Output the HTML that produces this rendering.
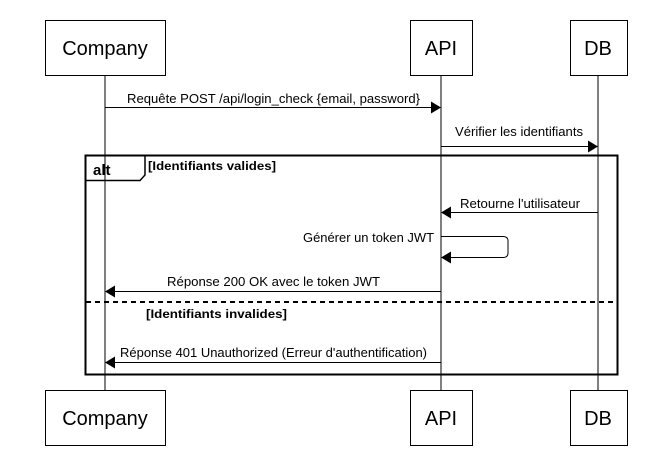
<!DOCTYPE html><html><head><style>body{margin:0;background:#fff}</style></head><body>
<svg width="659" height="455" xmlns="http://www.w3.org/2000/svg" font-family="Liberation Sans, sans-serif">
<g stroke="#000" fill="none">
<line x1="105" y1="75" x2="105" y2="390"/><line x1="441" y1="75" x2="441" y2="390"/><line x1="598" y1="75" x2="598" y2="390"/>
<rect x="45.5" y="20.5" width="120" height="55"/><rect x="410.5" y="20.5" width="62" height="55"/><rect x="570.5" y="20.5" width="57" height="55"/>
<rect x="45.5" y="390.5" width="120" height="55"/><rect x="410.5" y="390.5" width="62" height="55"/><rect x="570.5" y="390.5" width="57" height="55"/>
<rect x="85.5" y="155.5" width="532" height="219" stroke-width="2"/>
<path d="M86 180.5H140L145 175V156" stroke-width="1.5"/>
<line x1="86" y1="302" x2="617" y2="302" stroke-dasharray="5,4" stroke-width="2"/>
<line x1="105" y1="107.5" x2="432" y2="107.5"/><line x1="441" y1="146.5" x2="589" y2="146.5"/>
<line x1="450" y1="212.5" x2="598" y2="212.5"/>
<path d="M441 236.5H503Q508 236.5 508 241V253Q508 257.5 503 257.5H450"/>
<line x1="114" y1="291.5" x2="441" y2="291.5"/><line x1="114" y1="362.5" x2="441" y2="362.5"/>
</g>
<g fill="#000">
<path d="M441 107.5l-10-6v12z"/><path d="M598 146.5l-10-6v12z"/><path d="M441 212.5l10-6v12z"/><path d="M441 257.5l10-6v12z"/><path d="M105 291.5l10-6v12z"/><path d="M105 362.5l10-6v12z"/>
</g>
<g font-size="20" text-anchor="middle"><text x="105" y="55">Company</text><text x="441" y="55">API</text><text x="598" y="55">DB</text>
<text x="105" y="425">Company</text><text x="441" y="425">API</text><text x="598" y="425">DB</text></g>
<g font-size="12.5">
<text x="127" y="103" textLength="293" lengthAdjust="spacingAndGlyphs">Requête POST /api/login_check {email, password}</text>
<text x="455" y="136" textLength="128" lengthAdjust="spacingAndGlyphs">Vérifier les identifiants</text>
<text x="460" y="208" textLength="120" lengthAdjust="spacingAndGlyphs">Retourne l'utilisateur</text>
<text x="303" y="242" textLength="131" lengthAdjust="spacingAndGlyphs">Générer un token JWT</text>
<text x="167" y="286" textLength="213" lengthAdjust="spacingAndGlyphs">Réponse 200 OK avec le token JWT</text>
<text x="120" y="357" textLength="307" lengthAdjust="spacingAndGlyphs">Réponse 401 Unauthorized (Erreur d'authentification)</text>
<text x="148" y="170" font-weight="bold" font-size="12" textLength="128" lengthAdjust="spacingAndGlyphs">[Identifiants valides]</text>
<text x="146" y="318" font-weight="bold" font-size="12" textLength="141" lengthAdjust="spacingAndGlyphs">[Identifiants invalides]</text>
<text x="93" y="175" font-weight="bold" font-size="15">alt</text>
</g></svg></body></html>
